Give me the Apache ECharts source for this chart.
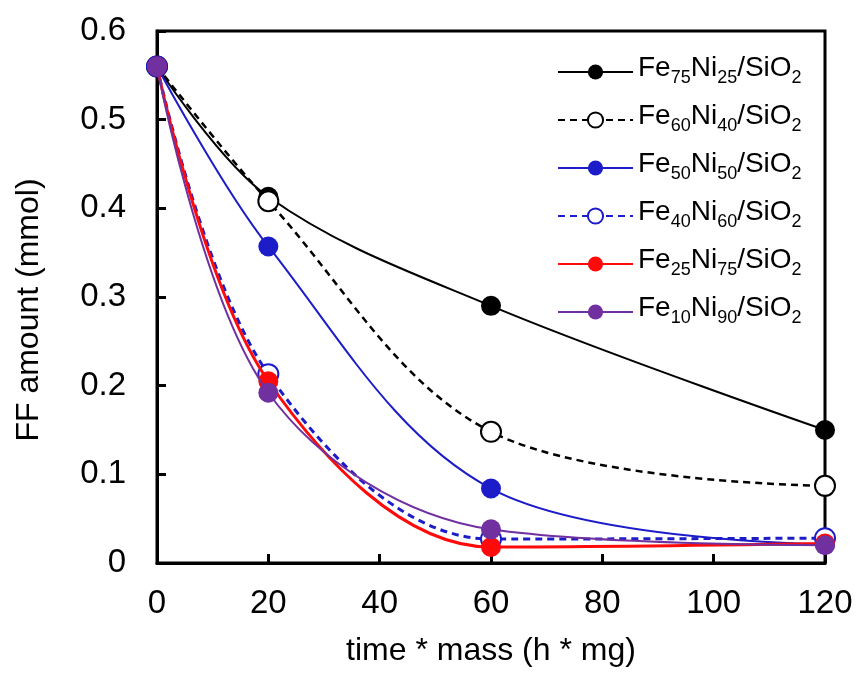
<!DOCTYPE html>
<html><head><meta charset="utf-8">
<script src="https://cdn.jsdelivr.net/npm/echarts@6/dist/echarts.min.js"></script>
<style>html,body{margin:0;padding:0;background:#fff}#c{width:856px;height:676px}</style>
</head><body><div id="c"></div>
<script>
const xValues = [0, 20, 60, 120];
const seriesNames = ['Fe75Ni25/SiO2','Fe60Ni40/SiO2','Fe50Ni50/SiO2','Fe40Ni60/SiO2','Fe25Ni75/SiO2','Fe10Ni90/SiO2'];
const fe75ni25 = [0.56, 0.413, 0.290, 0.150];
const fe60ni40 = [0.56, 0.408, 0.148, 0.087];
const fe50ni50 = [0.56, 0.357, 0.084, 0.021];
const fe40ni60 = [0.56, 0.213, 0.027, 0.028];
const fe25ni75 = [0.56, 0.205, 0.018, 0.022];
const fe10ni90 = [0.56, 0.192, 0.038, 0.020];
const xTicks = [0, 20, 40, 60, 80, 100, 120];
const yTicks = [0, 0.1, 0.2, 0.3, 0.4, 0.5, 0.6];

const valueSets = [fe75ni25, fe60ni40, fe50ni50, fe40ni60, fe25ni75, fe10ni90];
const colors = ['#000000','#000000','#1c1cc8','#1c1cc8','#ff0a0a','#7030a0'];
const dashed = [false, true, false, true, false, false];
const empty = [false, true, false, true, false, false];
const widths = [2, 2.5, 2, 3, 3, 2];
const FONT = 'Liberation Sans, Arial, sans-serif';

const chart = echarts.init(document.getElementById('c'));
const series = seriesNames.map((n, i) => ({
  name: n,
  type: 'line',
  smooth: 0.35,
  clip: false,
  data: xValues.map((x, j) => [x, valueSets[i][j]]),
  symbol: empty[i] ? 'emptyCircle' : 'circle',
  symbolSize: 20,
  showAllSymbol: true,
  lineStyle: { color: colors[i], width: widths[i], type: dashed[i] ? [7, 5] : 'solid' },
  itemStyle: { color: colors[i], borderColor: colors[i], borderWidth: empty[i] ? 2 : 0 },
  emphasis: { disabled: true },
  z: 2 + i
}));

chart.setOption({
  animation: false,
  backgroundColor: '#fff',
  textStyle: { fontFamily: FONT },
  grid: { left: 157, right: 31, top: 31, bottom: 113, show: true, borderColor: '#000', borderWidth: 3, backgroundColor: 'transparent' },
  legend: {
    orient: 'vertical',
    left: 557, top: 54, padding: 0,
    itemWidth: 75, itemHeight: 19, itemGap: 15,
    data: seriesNames,
    formatter: function (name) {
      return name.replace(/([A-Za-z\/]+)(\d+)/g, '{m|$1}{s|$2}');
    },
    textStyle: {
      color: '#000', fontSize: 28, fontFamily: FONT,
      rich: {
        m: { fontSize: 28, lineHeight: 36, verticalAlign: 'top', color: '#000', fontFamily: FONT },
        s: { fontSize: 18, verticalAlign: 'top', padding: [15, 0, 0, 0], color: '#000', fontFamily: FONT }
      }
    }
  },
  xAxis: {
    type: 'value', min: 0, max: 120, interval: 20,
    name: 'time * mass (h * mg)', nameLocation: 'middle', nameGap: 72,
    nameTextStyle: { fontSize: 32, color: '#000', fontFamily: FONT },
    axisLine: { show: true, onZero: false, lineStyle: { color: '#000', width: 3 } },
    axisTick: { show: true, inside: true, length: 9, lineStyle: { color: '#000', width: 3 } },
    axisLabel: { fontSize: 33, color: '#000', margin: 24, formatter: v => xTicks.includes(v) ? String(v) : '' },
    splitLine: { show: false }
  },
  yAxis: {
    type: 'value', min: 0, max: 0.6, interval: 0.1,
    name: 'FF amount (mmol)', nameLocation: 'middle', nameGap: 112,
    nameTextStyle: { fontSize: 32, color: '#000', fontFamily: FONT, padding: [0, 26, 0, 0] },
    axisLine: { show: true, onZero: false, lineStyle: { color: '#000', width: 3 } },
    axisTick: { show: true, inside: true, length: 9, lineStyle: { color: '#000', width: 3 } },
    axisLabel: { fontSize: 33, color: '#000', margin: 31,
      formatter: v => { const t = yTicks.find(y => Math.abs(y - v) < 1e-9); return t === undefined ? '' : (t === 0 ? '0' : t.toFixed(1)); } },
    splitLine: { show: false }
  },
  series: series
});
</script>
</body></html>
